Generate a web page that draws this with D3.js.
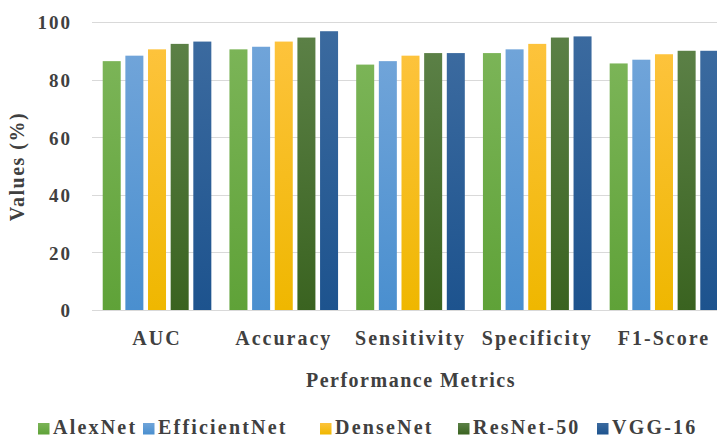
<!DOCTYPE html>
<html>
<head>
<meta charset="utf-8">
<script src="https://cdn.jsdelivr.net/npm/d3@7/dist/d3.min.js"></script>
<style>
  html, body { margin: 0; padding: 0; background: #fff; }
  svg { display: block; }
  text { font-family: "Liberation Serif", "Times New Roman", serif; font-weight: bold; fill: #404040; }
</style>
</head>
<body>
<svg id="chart" width="717" height="438"></svg>
<script>
// Performance metrics per model (%)
const categories = ["AUC", "Accuracy", "Sensitivity", "Specificity", "F1-Score"];
const models = ["AlexNet", "EfficientNet", "DenseNet", "ResNet-50", "VGG-16"];
const alexNet      = [86.5, 90.6, 85.3, 89.3, 85.7];
const efficientNet = [88.4, 91.5, 86.5, 90.6, 87.0];
const denseNet     = [90.6, 93.3, 88.4, 92.5, 88.9];
const resNet50     = [92.5, 94.7, 89.3, 94.7, 90.1];
const vgg16        = [93.3, 96.9, 89.3, 95.1, 90.1];
const yTicks = [0, 20, 40, 60, 80, 100];

const seriesValues = [alexNet, efficientNet, denseNet, resNet50, vgg16];
// top / bottom gradient colours for each model
const colorTop    = ["#7bb457", "#70a4d9", "#fdc33c", "#5b8046", "#3b6a9f"];
const colorBottom = ["#5fa238", "#4a8fcf", "#efb700", "#3a6320", "#1d538e"];

const svg = d3.select("#chart");

const plotLeft = 92, plotRight = 729;
const x0 = d3.scaleBand().domain(categories).range([plotLeft, plotRight])
  .paddingInner(0.143).paddingOuter(0.0845);
const x1 = d3.scaleBand().domain(models).range([0, x0.bandwidth()]).paddingInner(0.205);
const y = d3.scaleLinear().domain([0, 100]).range([310, 22.3]);

// gradients
const defs = svg.append("defs");
models.forEach((m, i) => {
  const g = defs.append("linearGradient").attr("id", "grad" + i)
    .attr("x1", 0).attr("y1", 0).attr("x2", 0).attr("y2", 1);
  g.append("stop").attr("offset", "0%").attr("stop-color", colorTop[i]);
  g.append("stop").attr("offset", "100%").attr("stop-color", colorBottom[i]);
});

// gridlines
svg.append("g").selectAll("line").data(yTicks).join("line")
  .attr("x1", plotLeft).attr("x2", 717)
  .attr("y1", d => Math.round(y(d)) + 0.5).attr("y2", d => Math.round(y(d)) + 0.5)
  .attr("stroke", "#d9d9d9").attr("stroke-width", 1);

// y tick labels
const yAxis = d3.axisLeft(y).tickValues(yTicks).tickSize(0).tickPadding(0);
const ya = svg.append("g").attr("transform", "translate(72,0)").call(yAxis);
ya.select(".domain").remove();
ya.selectAll("text")
  .style("font-family", "'Liberation Serif', 'Times New Roman', serif")
  .style("font-weight", "bold").style("font-size", "19px")
  .style("letter-spacing", "2px").attr("fill", "#404040")
  .attr("dy", "0.35em");

// bars
const groups = svg.append("g").selectAll("g").data(categories).join("g")
  .attr("transform", d => `translate(${x0(d)},0)`);
groups.selectAll("rect")
  .data((c, ci) => models.map((m, mi) => ({ m, mi, v: seriesValues[mi][ci] })))
  .join("rect")
  .attr("x", d => x1(d.m))
  .attr("width", x1.bandwidth())
  .attr("y", d => y(d.v))
  .attr("height", d => y(0) - y(d.v))
  .attr("fill", d => `url(#grad${d.mi})`);

// category labels
const xAxis = d3.axisBottom(x0).tickSize(0).tickPadding(0);
const xa = svg.append("g").attr("transform", "translate(0,345)").call(xAxis);
xa.select(".domain").remove();
xa.selectAll("text")
  .attr("dy", 0).attr("y", 0)
  .style("font-family", "'Liberation Serif', 'Times New Roman', serif")
  .style("font-weight", "bold").style("font-size", "20px")
  .style("letter-spacing", "2px").attr("fill", "#404040");

// axis titles
svg.append("text").attr("x", 411).attr("y", 386.5).attr("text-anchor", "middle")
  .style("font-size", "20px").style("letter-spacing", "1.5px")
  .text("Performance Metrics");
svg.append("text").attr("transform", "translate(24,166.5) rotate(-90)")
  .attr("text-anchor", "middle")
  .style("font-size", "20px").style("letter-spacing", "1.5px")
  .text("Values (%)");

// legend
const legendX = [38, 143, 320, 458, 597];
const legend = svg.append("g").selectAll("g").data(models).join("g")
  .attr("transform", (d, i) => `translate(${legendX[i]},0)`);
legend.append("rect").attr("x", 0).attr("y", 423).attr("width", 11.5).attr("height", 11.5)
  .attr("fill", (d, i) => `url(#grad${i})`);
legend.append("text").attr("x", 15).attr("y", 434)
  .style("font-size", "20px").style("letter-spacing", "2.2px")
  .text(d => d);
</script>
</body>
</html>
